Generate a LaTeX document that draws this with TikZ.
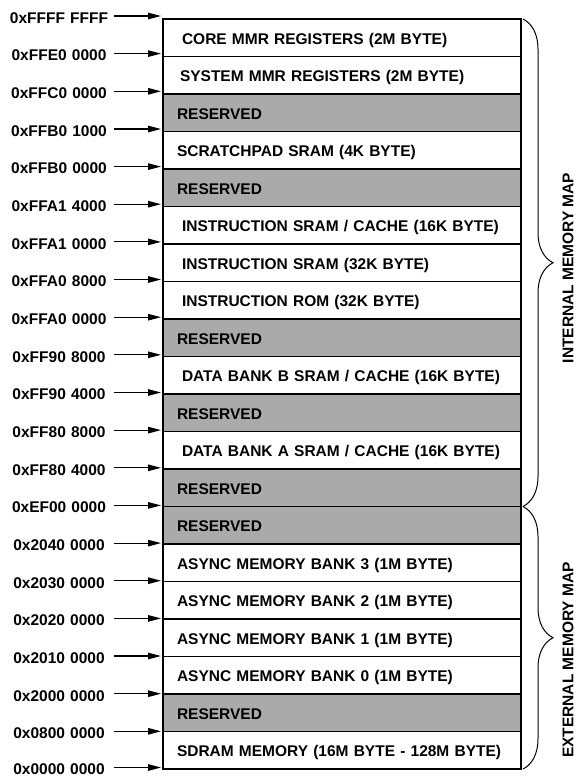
\documentclass[tikz,border=0pt]{standalone}
\usepackage{fontspec}
\setmainfont{Liberation Sans}
\usetikzlibrary{positioning,arrows.meta,decorations.pathreplacing}
\definecolor{resgray}{RGB}{170,170,170}
\tikzset{
  memrow/.style={draw, line width=1.5pt, minimum height=37.5pt, text width=330pt,
    inner xsep=14pt, inner ysep=0pt, outer sep=0pt, text height=13pt, text depth=0pt,
    align=left, font=\fontsize{15.5}{18}\selectfont\bfseries},
  reserved/.style={memrow, fill=resgray},
  addr/.style={text width=106pt, align=center, inner xsep=2pt, inner ysep=0pt,
    font=\fontsize{15.5}{18}\selectfont\bfseries},
  addrarrow/.style={line width=1.1pt, -{Triangle[length=13pt,width=6.5pt]}, shorten >=2pt},
  mapbrace/.style={decorate, decoration={brace, amplitude=30pt}, line width=1pt},
  maplabel/.style={rotate=90, inner sep=0pt, font=\fontsize{15.5}{18}\selectfont\bfseries},
}
\begin{document}
\begin{tikzpicture}[x=1pt, y=-1pt]
  \useasboundingbox (0,0) rectangle (578,777);
  % Memory rows, top to bottom
  \node[memrow] (core) at (342,37.75) {\hspace{5pt}CORE MMR REGISTERS (2M BYTE)};
  \node[memrow, below=0pt of core] (sysmmr) {\hspace{3pt}SYSTEM MMR REGISTERS (2M BYTE)};
  \node[reserved, below=0pt of sysmmr] (res1) {RESERVED};
  \node[memrow, below=0pt of res1] (scratch) {SCRATCHPAD SRAM (4K BYTE)};
  \node[reserved, below=0pt of scratch] (res2) {RESERVED};
  \node[memrow, below=0pt of res2] (isramc) {\hspace{5pt}INSTRUCTION SRAM / CACHE (16K BYTE)};
  \node[memrow, below=0pt of isramc] (isram) {\hspace{5pt}INSTRUCTION SRAM (32K BYTE)};
  \node[memrow, below=0pt of isram] (irom) {\hspace{5pt}INSTRUCTION ROM (32K BYTE)};
  \node[reserved, below=0pt of irom] (res3) {RESERVED};
  \node[memrow, below=0pt of res3] (dbankb) {\hspace{5pt}DATA BANK B SRAM / CACHE (16K BYTE)};
  \node[reserved, below=0pt of dbankb] (res4) {RESERVED};
  \node[memrow, below=0pt of res4] (dbanka) {\hspace{5pt}DATA BANK A SRAM / CACHE (16K BYTE)};
  \node[reserved, below=0pt of dbanka] (res5) {RESERVED};
  \node[reserved, below=0pt of res5] (res6) {RESERVED};
  \node[memrow, below=0pt of res6] (async3) {ASYNC MEMORY BANK 3 (1M BYTE)};
  \node[memrow, below=0pt of async3] (async2) {ASYNC MEMORY BANK 2 (1M BYTE)};
  \node[memrow, below=0pt of async2] (async1) {ASYNC MEMORY BANK 1 (1M BYTE)};
  \node[memrow, below=0pt of async1] (async0) {ASYNC MEMORY BANK 0 (1M BYTE)};
  \node[reserved, below=0pt of async0] (res7) {RESERVED};
  \node[memrow, below=0pt of res7] (sdram) {SDRAM MEMORY (16M BYTE - 128M BYTE)};

  % Start addresses
  \node[addr] (ffff) at (59,18) {0xFFFF FFFF};
  \node[addr] (ffe0) at (59,55.6) {0xFFE0 0000};
  \node[addr] (ffc0) at (59,93.3) {0xFFC0 0000};
  \node[addr] (ffb01) at (59,131) {0xFFB0 1000};
  \node[addr] (ffb0) at (59,168.6) {0xFFB0 0000};
  \node[addr] (ffa14) at (59,206.2) {0xFFA1 4000};
  \node[addr] (ffa10) at (59,243.9) {0xFFA1 0000};
  \node[addr] (ffa08) at (59,281.5) {0xFFA0 8000};
  \node[addr] (ffa00) at (59,319.2) {0xFFA0 0000};
  \node[addr] (ff908) at (59,356.8) {0xFF90 8000};
  \node[addr] (ff904) at (59,394.5) {0xFF90 4000};
  \node[addr] (ff808) at (59,432.1) {0xFF80 8000};
  \node[addr] (ff804) at (59,469.8) {0xFF80 4000};
  \node[addr] (ef00) at (59,507.4) {0xEF00 0000};
  \node[addr] (x2040) at (59,545.1) {0x2040 0000};
  \node[addr] (x2030) at (59,582.7) {0x2030 0000};
  \node[addr] (x2020) at (59,620.4) {0x2020 0000};
  \node[addr] (x2010) at (59,658) {0x2010 0000};
  \node[addr] (x2000) at (59,695.7) {0x2000 0000};
  \node[addr] (x0800) at (59,733.3) {0x0800 0000};
  \node[addr] (x0000) at (59,769.5) {0x0000 0000};

  \foreach \a in {ffff,ffe0,ffc0,ffb01,ffb0,ffa14,ffa10,ffa08,ffa00,ff908,ff904,
                  ff808,ff804,ef00,x2040,x2030,x2020,x2010,x2000,x0800,x0000}
    \draw[addrarrow] ([yshift=2pt]\a.east) -- ([yshift=2pt]\a.east -| core.west);

  % Braces
  \draw[mapbrace] ([xshift=2pt]core.north east) -- ([xshift=2pt]res5.south east);
  \draw[mapbrace] ([xshift=2pt]res6.north east) -- ([xshift=2pt]sdram.south east);
  \node[maplabel] (intmap) at (568,268) {INTERNAL MEMORY MAP};
  \node[maplabel] (extmap) at (568,660) {EXTERNAL MEMORY MAP};
\end{tikzpicture}
\end{document}
